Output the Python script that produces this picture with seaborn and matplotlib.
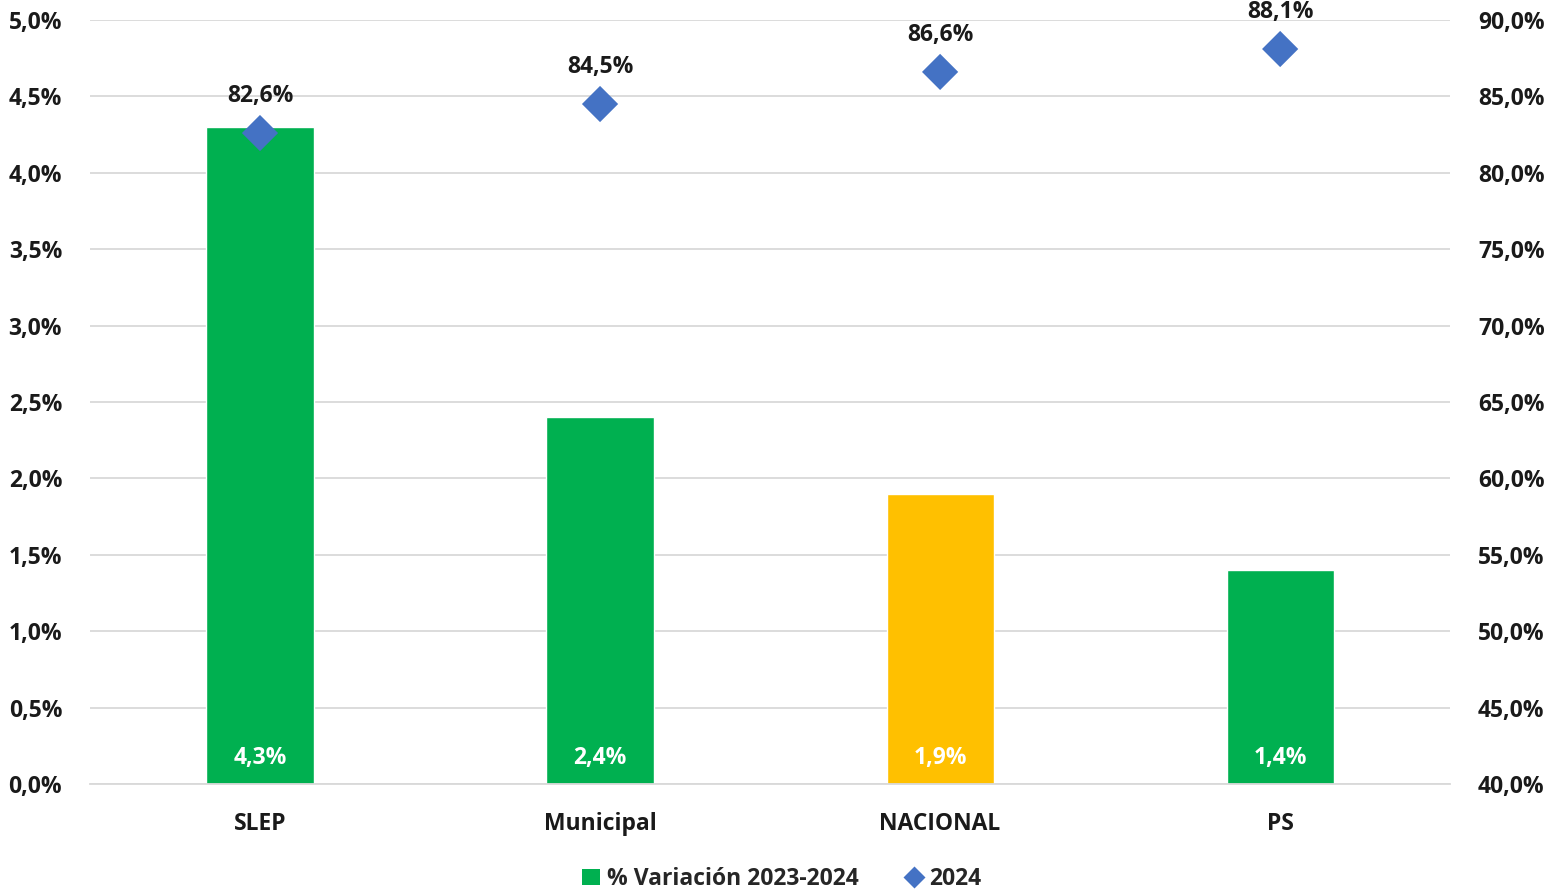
import matplotlib
matplotlib.use("Agg")
import matplotlib.pyplot as plt
import seaborn as sns
import pandas as pd
from matplotlib.lines import Line2D
from matplotlib.patches import Patch

# ===== DATOS =====
categorias = ["SLEP", "Municipal", "NACIONAL", "PS"]
variacion = [4.3, 2.4, 1.9, 1.4]          # % Variacion 2023-2024 (eje izq.)
valor_2024 = [82.6, 84.5, 86.6, 88.1]     # 2024 (eje der.)
colores_barras = ["#00B050", "#00B050", "#FFC000", "#00B050"]

left_ticks = [0, 0.5, 1.0, 1.5, 2.0, 2.5, 3.0, 3.5, 4.0, 4.5, 5.0]
right_ticks = [40, 45, 50, 55, 60, 65, 70, 75, 80, 85, 90]

def fmt(v):
    return f"{v:.1f}%".replace(".", ",")

df = pd.DataFrame({"cat": categorias, "var": variacion, "v24": valor_2024})

sns.set_theme(style="white")
plt.rcParams["font.family"] = ["Open Sans", "DejaVu Sans"]
plt.rcParams["font.weight"] = "bold"

FS = 16.5
fig = plt.figure(figsize=(15.51, 8.92), dpi=100)
ax = fig.add_axes([0.058, 0.1211, 0.877, 0.8565])

sns.barplot(data=df, x="cat", y="var", hue="cat", palette=colores_barras,
            legend=False, width=0.315, ax=ax, saturation=1)
ax.set_ylim(0, 5.0)
ax.set_yticks(left_ticks)
ax.set_yticklabels([fmt(t) for t in left_ticks], fontsize=FS, fontweight="bold", color="#1a1a1a")
ax.set_xlim(-0.5, 3.5)
ax.set_xlabel("")
ax.set_ylabel("")
ax.tick_params(axis="x", labelsize=FS, length=0, pad=20)
for lab in ax.get_xticklabels():
    lab.set_fontweight("bold")
    lab.set_color("#1a1a1a")
ax.tick_params(axis="y", length=0, pad=20)
ax.grid(axis="y", color="#d9d9d9", linewidth=1.3)
ax.set_axisbelow(True)
for s in ["top", "right", "left"]:
    ax.spines[s].set_visible(False)
ax.spines["bottom"].set_color("#d9d9d9")
ax.spines["bottom"].set_linewidth(1.3)

# etiquetas blancas dentro de las barras
for i, v in enumerate(variacion):
    ax.text(i, 0.09, fmt(v), ha="center", va="bottom", color="white",
            fontsize=FS, fontweight="bold")

# eje derecho: 2024
ax2 = ax.twinx()
sns.scatterplot(x=list(range(len(categorias))), y=valor_2024, marker="D", s=340,
                color="#4472C4", edgecolor="none", ax=ax2, legend=False, zorder=5)
ax2.set_ylim(40, 90)
ax2.set_yticks(right_ticks)
ax2.set_yticklabels([fmt(t) for t in right_ticks], fontsize=FS, fontweight="bold", color="#1a1a1a")
ax2.tick_params(axis="y", length=0, pad=20)
for s in ax2.spines.values():
    s.set_visible(False)
ax2.grid(False)
for i, v in enumerate(valor_2024):
    ax2.annotate(fmt(v), (i, v), xytext=(0, 18), textcoords="offset points",
                 ha="center", va="bottom", fontsize=FS, fontweight="bold", color="#1a1a1a")

# leyenda
handles = [Patch(facecolor="#00B050", edgecolor="none", label="% Variación 2023-2024"),
           Line2D([0], [0], marker="D", color="none", markerfacecolor="#4472C4",
                  markeredgecolor="none", markersize=11, label="2024")]
fig.legend(handles=handles, loc="lower center", bbox_to_anchor=(0.504, -0.022), ncol=2,
           frameon=False, handlelength=0.8, handletextpad=0.3,
           columnspacing=2.0, prop={"weight": "bold", "size": FS})

fig.savefig("out.png", dpi=100)
